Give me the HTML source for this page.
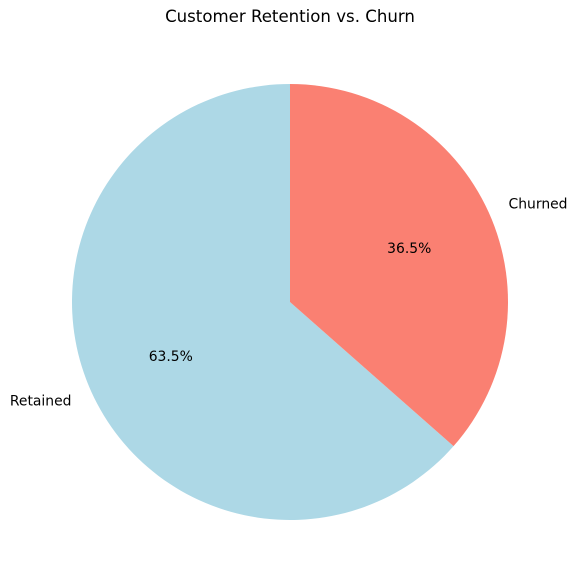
<!DOCTYPE html>
<html><head><meta charset="utf-8"><style>
body{margin:0;background:#fff;}
svg{display:block;font-family:"DejaVu Sans","Liberation Sans",sans-serif;}
</style></head><body>
<svg id="chart" width="576" height="584" viewBox="0 0 576 584">
<text x="290" y="22" text-anchor="middle" font-size="16.6">Customer Retention vs. Churn</text>
<g id="slices"></g>
</svg>
<script>
const categories = ["Retained", "Churned"];
const values = [63.5, 36.5];
const colors = ["#add8e6", "#fa8072"];
const cx = 290, cy = 302, r = 218, startAngle = 90;
const ns = "http://www.w3.org/2000/svg";
const g = document.getElementById("slices");
const total = values.reduce((a, b) => a + b, 0);
let ang = startAngle;
function pt(a, rad) { const t = a * Math.PI / 180; return [cx + rad * Math.cos(t), cy - rad * Math.sin(t)]; }
values.forEach((v, i) => {
  const sweep = v / total * 360;
  const a0 = ang, a1 = ang + sweep;
  const p0 = pt(a0, r), p1 = pt(a1, r);
  const large = sweep > 180 ? 1 : 0;
  const path = document.createElementNS(ns, "path");
  path.setAttribute("d", `M${cx},${cy} L${p0[0]},${p0[1]} A${r},${r} 0 ${large} 0 ${p1[0]},${p1[1]} Z`);
  path.setAttribute("fill", colors[i]);
  
  
  g.appendChild(path);
  const mid = (a0 + a1) / 2;
  const pp = pt(mid, r * 0.6);
  const pct = document.createElementNS(ns, "text");
  pct.setAttribute("x", pp[0]); pct.setAttribute("y", pp[1] + 5);
  pct.setAttribute("text-anchor", "middle"); pct.setAttribute("font-size", "13.9");
  pct.textContent = (v / total * 100).toFixed(1) + "%";
  
  
  g.appendChild(pct);
  const lp = pt(mid, r * 1.1);
  const lab = document.createElementNS(ns, "text");
  lab.setAttribute("x", lp[0]); lab.setAttribute("y", lp[1] + 5);
  lab.setAttribute("text-anchor", Math.cos(mid * Math.PI / 180) < 0 ? "end" : "start");
  lab.setAttribute("font-size", "13.9");
  lab.textContent = categories[i];
  
  
  g.appendChild(lab);
  ang = a1;
});
</script>
</body></html>
